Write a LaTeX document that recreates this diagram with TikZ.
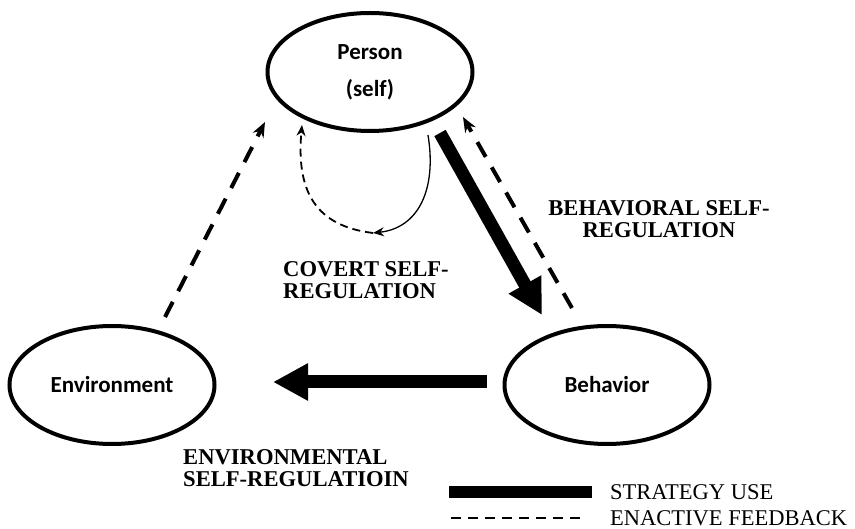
\documentclass[tikz,border=0pt]{standalone}
\usepackage{fontspec}
\setmainfont{Liberation Serif}
\newfontfamily\calib{Carlito}
\usetikzlibrary{positioning,shapes.geometric,arrows.meta}

\tikzset{%
  agent/.style={%
    ellipse,
    draw,
    line width=4pt,
    inner sep=0pt,
    minimum width=205pt,
    minimum height=118pt,
    font=\calib\bfseries\fontsize{23}{37}\selectfont,
    align=center
  },
  strategy/.style={line width=13pt, -{Triangle[length=35pt,width=35pt]}},
  feedback/.style={line width=4pt, dash pattern=on 17pt off 12pt,
    -{Stealth[length=15pt,width=12pt]}},
  regtext/.style={font=\bfseries\fontsize{22.6}{22}\selectfont, inner sep=0pt},
  legtext/.style={font=\fontsize{22.5}{25}\selectfont, inner sep=0pt, anchor=west}
}

\begin{document}
\begin{tikzpicture}[x=1pt, y=-1pt]
    \useasboundingbox (0,0) rectangle (855,529);

    % the three ellipses
    \node[agent] (person) at (370,72) {Person\\(self)};
    \node[agent] (behavior) at (607,385) {Behavior};
    \node[agent] (environment) at (112,385) {Environment};

    % labels
    \node[regtext, align=center] (behlbl) at (659,219) {BEHAVIORAL SELF-\\REGULATION};
    \node[regtext, align=left, anchor=north west] (covlbl) at (283,261) {COVERT SELF-\\REGULATION};
    \node[regtext, align=left, anchor=north west] (envlbl) at (183,449) {ENVIRONMENTAL\\SELF-REGULATIOIN};

    % legend
    \node[legtext] (stratlbl) at (610,492) {STRATEGY USE};
    \node[legtext] (enactlbl) at (610,518) {ENACTIVE FEEDBACK};

    \coordinate (covert) at (373,233);

    % strategy use
    \draw[strategy] ([shift={(70,61)}]person.center) -- ([shift={(-65,-70)}]behavior.center);
    \draw[strategy] ([shift={(-120,-3)}]behavior.center) -- ([shift={(161,-3)}]environment.center);

    % enactive feedback
    \draw[feedback] ([shift={(-35,-77)}]behavior.center) -- ([shift={(93,45)}]person.center);
    \draw[feedback] ([shift={(53,-68)}]environment.center) -- ([shift={(-105,50)}]person.center);

    % covert loop
    \draw[line width=1.3pt, -{Stealth[length=11pt,width=9pt]}]
      ([shift={(58,63)}]person.center) .. controls (437,190) and (418,228) .. (covert);
    \draw[line width=1.8pt, dash pattern=on 8pt off 5pt, -{Stealth[length=11pt,width=9pt]}]
      (covert) .. controls (316,226) and (296,192) .. ([shift={(-68,53)}]person.center);

    % legend lines
    \draw[line width=12pt] ([xshift=-18pt]stratlbl.west) -- ++(-143,0);
    \draw[line width=2pt, dash pattern=on 10pt off 7pt] ([xshift=-30pt]enactlbl.west) -- ++(-131,0);
\end{tikzpicture}
\end{document}
